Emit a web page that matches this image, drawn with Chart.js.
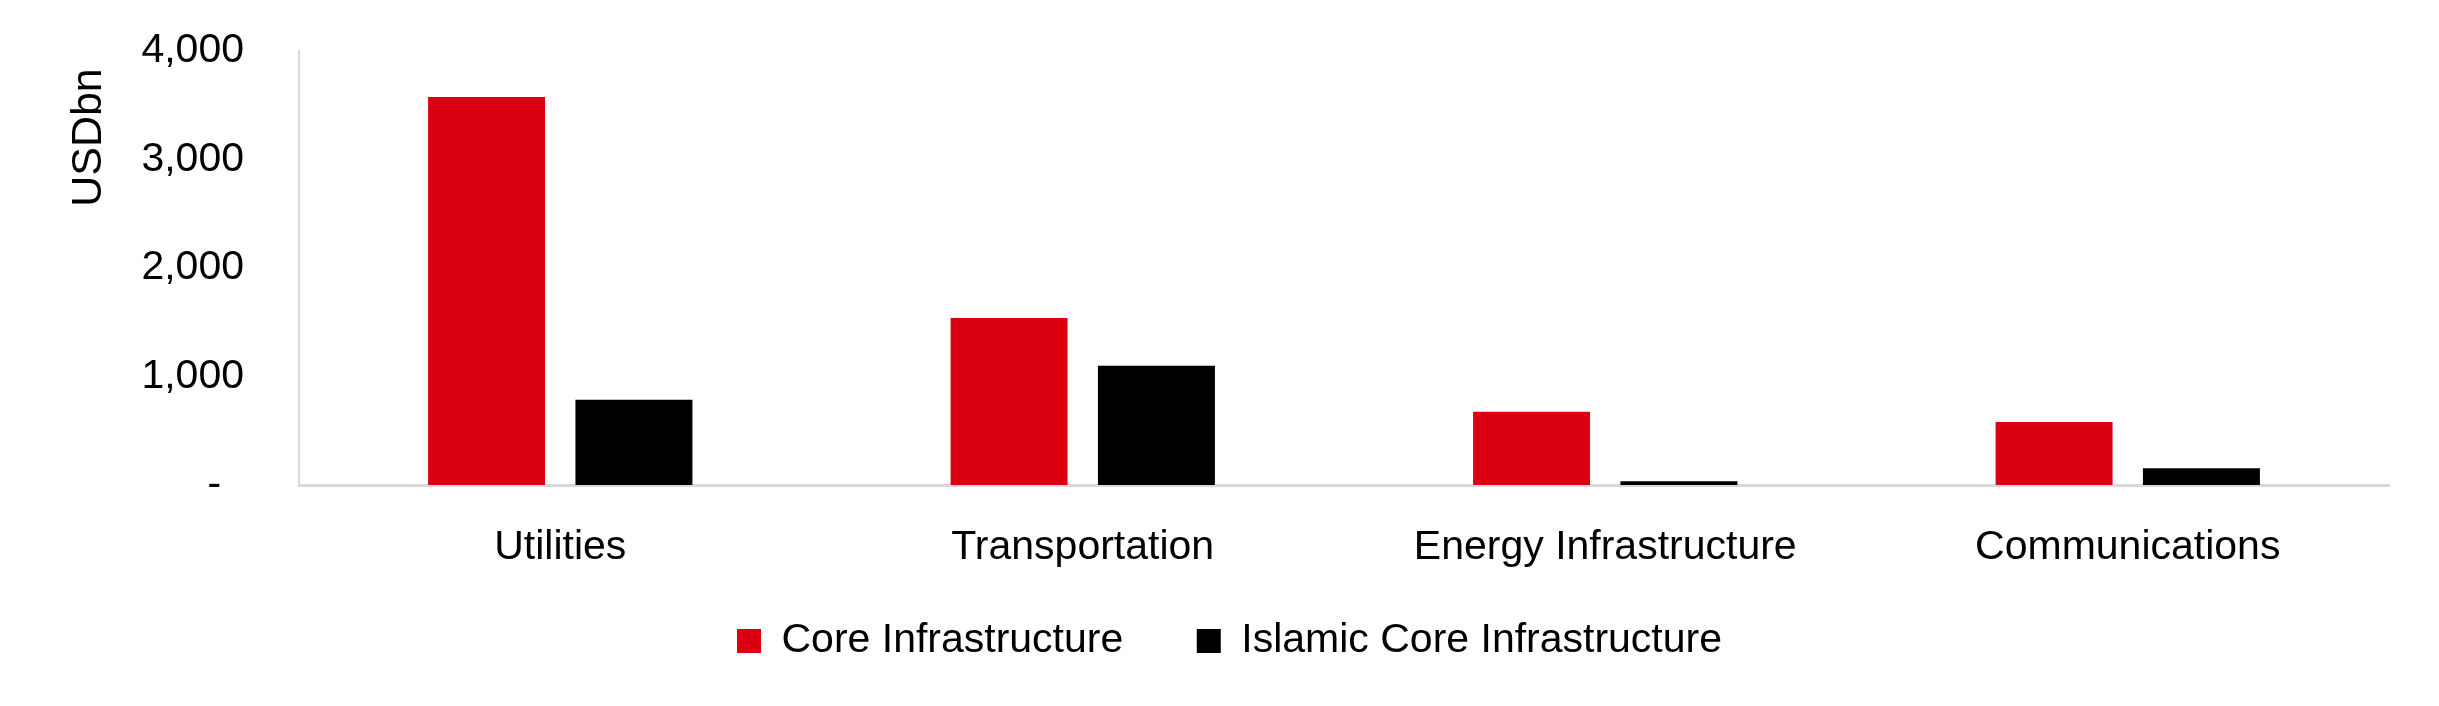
<!DOCTYPE html>
<html>
<head>
<meta charset="utf-8">
<script src="https://cdn.jsdelivr.net/npm/chart.js@4"></script>
<style>
  html, body { margin: 0; padding: 0; background: #ffffff; }
  #wrap { width: 2439px; height: 706px; }
</style>
</head>
<body>
<div id="wrap"><canvas id="c" width="2439" height="706"></canvas></div>
<script>
const categories = ['Utilities', 'Transportation', 'Energy Infrastructure', 'Communications'];
const coreInfrastructure = [3575, 1540, 675, 580];
const islamicCoreInfrastructure = [785, 1100, 35, 155];
const seriesNames = ['Core Infrastructure', 'Islamic Core Infrastructure'];
const yTickValues = [0, 1000, 2000, 3000, 4000];
const yAxisTitle = 'USDbn';

const FONT = "'Liberation Sans', Arial, sans-serif";
const TEXT = '#000000';

const legendFitPlugin = {
  id: 'legendFit',
  beforeLayout(chart) {
    const lg = chart.legend;
    if (lg && !lg._patched) {
      const orig = lg.fit;
      lg.fit = function () { orig.call(this); this.height = 131; };
      lg._patched = true;
    }
  },
  afterLayout(chart) {
    const lg = chart.legend;
    if (lg) { lg.left += 35; lg.right += 35; lg.top -= 28; lg.bottom -= 28; }
  }
};

new Chart(document.getElementById('c'), {
  type: 'bar',
  data: {
    labels: categories,
    datasets: [
      { label: seriesNames[0], data: coreInfrastructure, backgroundColor: '#DB0011', borderWidth: 0 },
      { label: seriesNames[1], data: islamicCoreInfrastructure, backgroundColor: '#000000', borderWidth: 0 }
    ]
  },
  options: {
    responsive: false,
    devicePixelRatio: 1,
    animation: false,
    categoryPercentage: 0.564,
    barPercentage: 0.794,
    layout: { padding: { top: 51, right: 50, bottom: 0, left: 0 } },
    plugins: {
      legend: {
        position: 'bottom',
        labels: {
          boxWidth: 24, boxHeight: 24, padding: 73.5,
          color: TEXT, font: { family: FONT, size: 41 }
        }
      },
      tooltip: { enabled: false }
    },
    scales: {
      x: {
        grid: { display: false, drawTicks: false },
        border: { display: true, color: '#D9D9D9', width: 3 },
        ticks: { color: TEXT, font: { family: FONT, size: 41 }, padding: 38, maxRotation: 0 },
        afterFit(s) { s.height = 90; s.paddingLeft = 0; s.paddingRight = 0; }
      },
      y: {
        min: 0, max: 4000,
        afterBuildTicks(s) { s.ticks = yTickValues.map(v => ({ value: v })); },
        grid: { display: false, drawTicks: false },
        border: { display: true, color: '#D9D9D9', width: 2 },
        ticks: {
          color: TEXT, font: { family: FONT, size: 41 }, padding: 55,
          callback: (v) => v === 0 ? '-  ' : Number(v).toLocaleString('en-US')
        },
        title: {
          display: true, text: yAxisTitle + '\u2009\u2009', align: 'end', color: TEXT,
          font: { family: FONT, size: 43 }, padding: { top: 63, bottom: 0 }
        },
        afterFit(s) { s.width = 299; s.paddingTop = 0; s.paddingBottom = 0; }
      }
    }
  },
  plugins: [legendFitPlugin]
});
</script>
</body>
</html>
